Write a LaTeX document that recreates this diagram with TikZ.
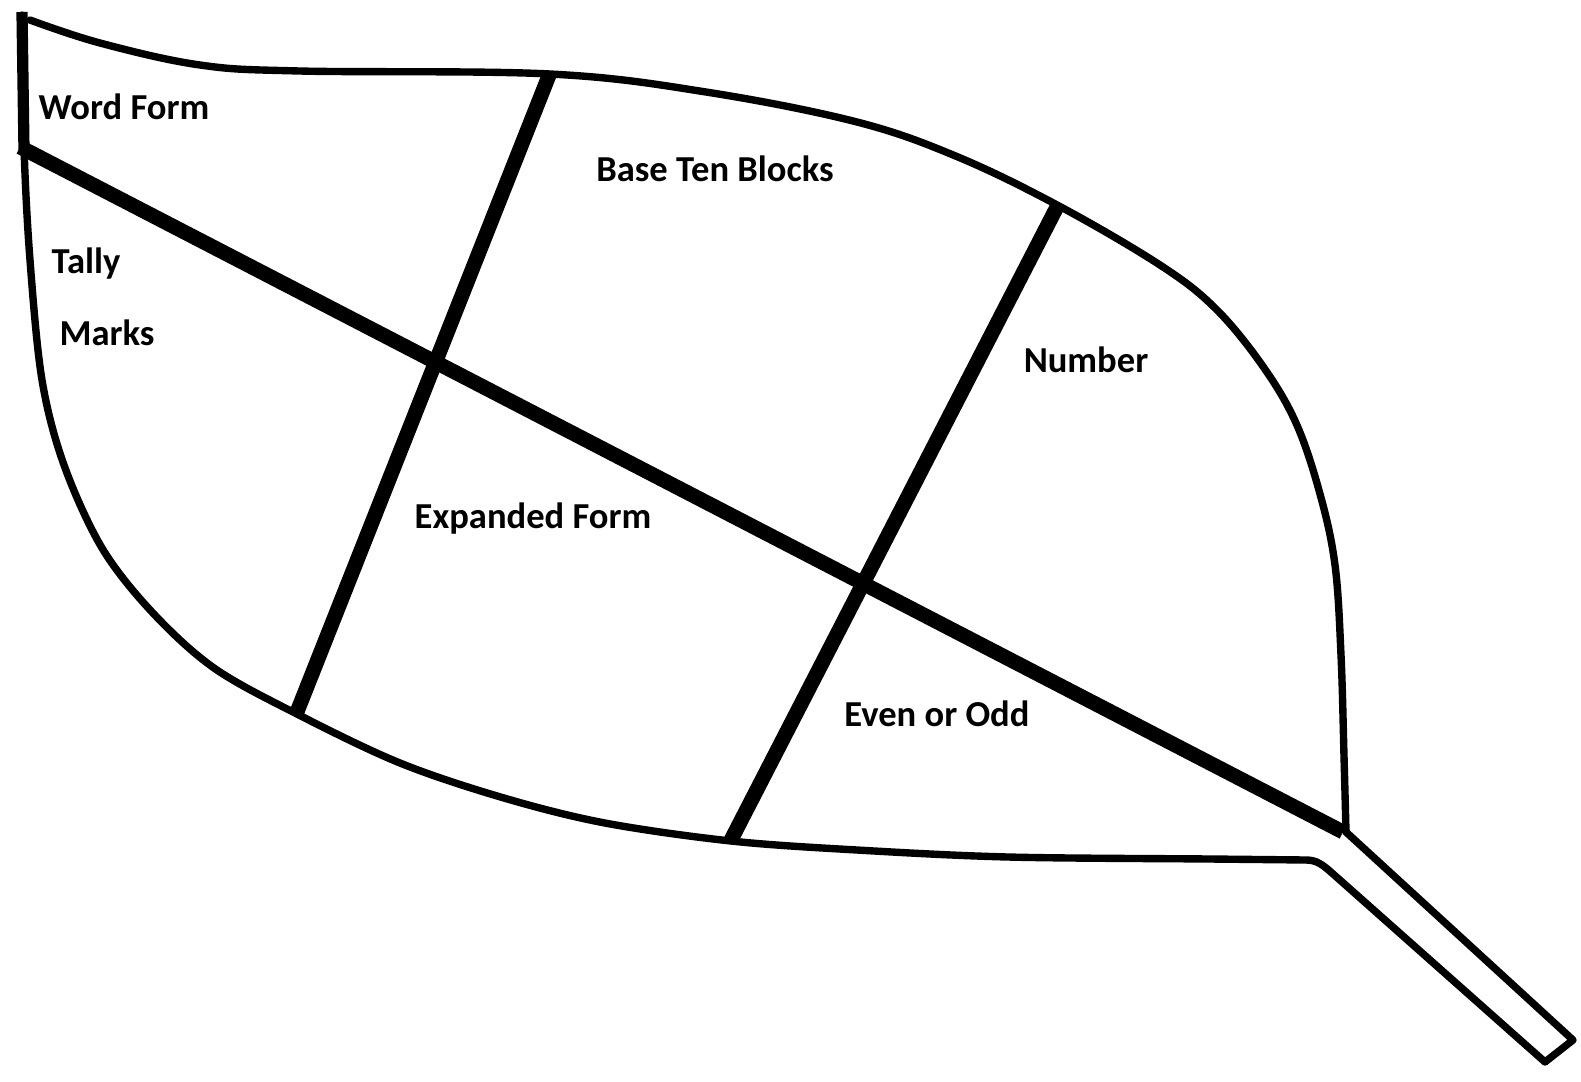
\documentclass[tikz,border=0pt]{standalone}
\usepackage{fontspec}
\setmainfont{Carlito}
\usepackage{tikz}
\usetikzlibrary{calc, positioning}

\tikzset{
    leafline/.style={line width=2.1pt, line join=round, line cap=round},
    vein/.style={line width=4.2pt},
    lbl/.style={font=\fontsize{10.4}{12}\selectfont\bfseries, inner sep=0pt}
}

\begin{document}
\begin{tikzpicture}[x=0.01cm, y=-0.01cm]
    \useasboundingbox (0,0) rectangle (1581,1081);

    % Viền lá
    \draw[leafline] plot[smooth, tension=0.55] coordinates {
        (22,15) (24,147) (30,260) (42,380) (64,465) (102,548) (152,612)
        (214,668) (297,714) (400,763) (504,798) (605,823) (731,841)
        (857,850) (1008,857) (1210,859) (1306,860)}
        .. controls (1316,860) and (1322,864) .. (1332,873)
        -- (1545,1062) -- (1573,1040) -- (1346,832);
    \draw[leafline] plot[smooth, tension=0.6] coordinates {
        (1346,832) (1344,756) (1341,655) (1335,565) (1320,494) (1296,423)
        (1262,365) (1215,308) (1160,265) (1059,206) (958,157) (857,122)
        (706,92) (550,74) (300,71) (200,65) (100,43) (30,20)};
    \draw[line width=3.2pt] (22,12) -- (24,150);

    % Gân lá
    \coordinate (midA) at (20,147);
    \coordinate (midB) at (1343,832);
    \coordinate (veinAt) at (550,73);
    \coordinate (veinAb) at (297,712);
    \coordinate (veinBt) at (1059,203);
    \coordinate (veinBb) at (731,840);
    \draw[vein] (midA) -- (midB);
    \draw[vein] (veinAt) -- (veinAb);
    \draw[vein] (veinBt) -- (veinBb);

    % Nhãn
    \node[lbl] (word) at (124,107) {Word Form};
    \node[lbl] (blocks) at (715,169) {Base Ten Blocks};
    \node[lbl, anchor=west] (tally) at (51,264) {Tally};
    \node[lbl, anchor=west] (marks) at (59,333) {Marks};
    \node[lbl] (number) at (1086,360) {Number};
    \node[lbl] (expanded) at (533,519) {Expanded Form};
    \node[lbl] (evenodd) at (937,714) {Even or Odd};
\end{tikzpicture}
\end{document}
